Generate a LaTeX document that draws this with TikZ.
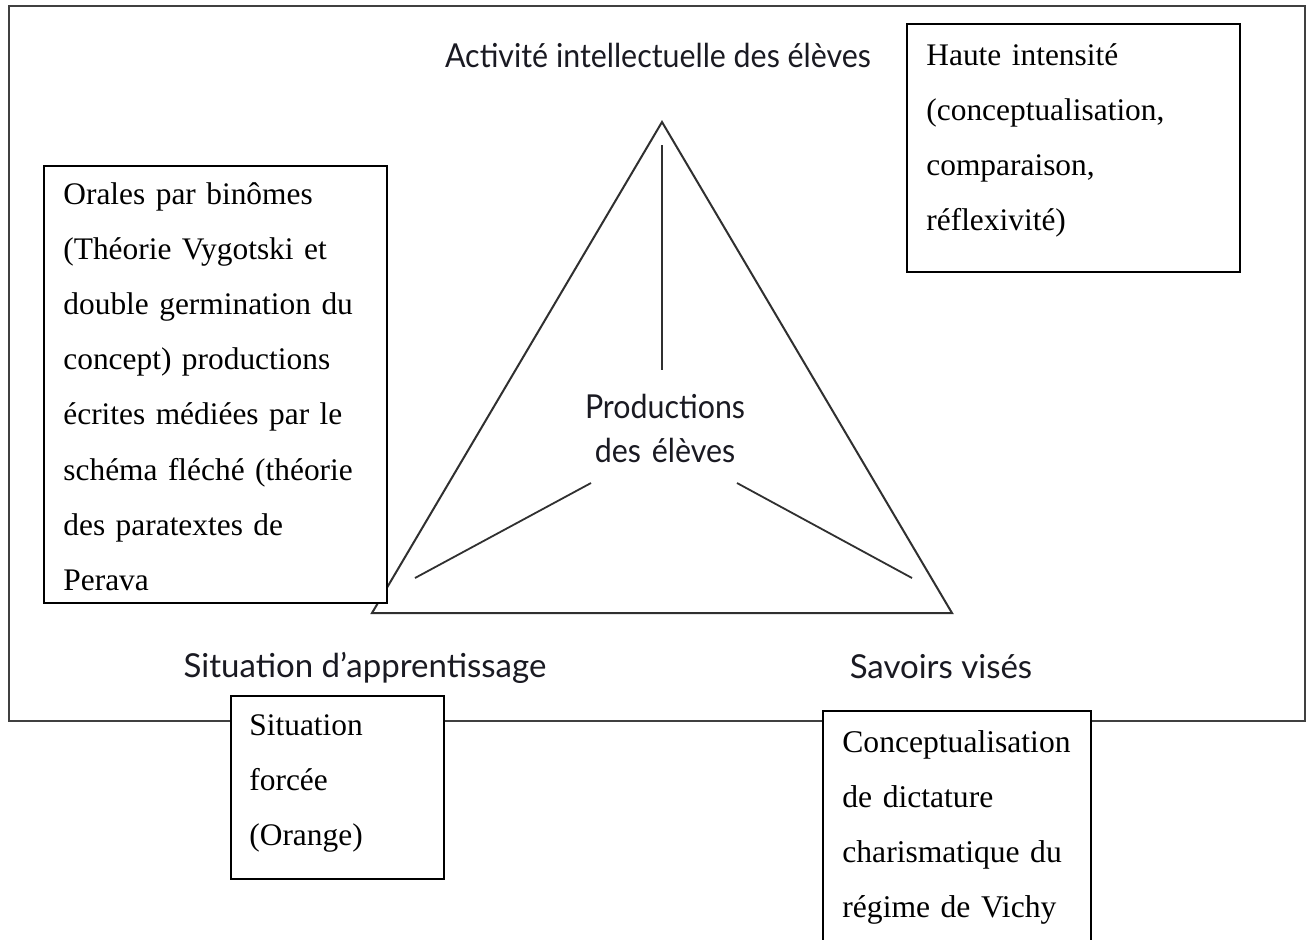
\documentclass[tikz,border=0pt]{standalone}
\usepackage{fontspec}
\setmainfont{Liberation Serif}
\newfontfamily\futfont{Lato}
\newfontfamily\futnarrow[FakeStretch=0.92]{Lato}
\definecolor{framegray}{HTML}{404040}
\definecolor{trigray}{HTML}{303030}
\definecolor{labelink}{HTML}{1A1A22}
\begin{document}
\begin{tikzpicture}[x=0.5pt,y=-0.5pt,
  frame/.style={draw=framegray,line width=0.75pt},
  tri/.style={draw=trigray,line width=1pt},
  spoke/.style={draw=trigray,line width=0.9pt},
  box/.style={draw=black,line width=0.75pt,fill=white,inner sep=0pt,anchor=north west},
  boxtext/.style={anchor=base west,inner sep=0pt,align=left,font=\fontsize{15.7}{27.6}\selectfont},
  lbl/.style={inner sep=0pt,text=labelink,font=\futfont\fontsize{16.5}{22}\selectfont}]
\clip (0,0) rectangle (1311,939);
\fill[white] (0,0) rectangle (1311,939);
% outer frame
\draw[frame] (9,6) rectangle (1305,721);
% triangle
\coordinate (apex) at (662,122);
\coordinate (bl) at (372,613);
\coordinate (br) at (952,613);
\draw[tri,line join=miter] (apex) -- (bl) -- (br) -- cycle;
% spokes
\coordinate (v1) at (662,145);
\coordinate (v2) at (662,370);
\coordinate (l1) at (591,483);
\coordinate (l2) at (415,578);
\coordinate (r1) at (737,483);
\coordinate (r2) at (912,578);
\draw[spoke] (v1) -- (v2);
\draw[spoke] (l1) -- (l2);
\draw[spoke] (r1) -- (r2);
% labels
\node[lbl,anchor=base,font=\futnarrow\fontsize{16.5}{22}\selectfont] (act) at (658,67) {Activité intellectuelle des élèves};
\node[lbl,anchor=base,text width=110pt,align=center,font=\futnarrow\fontsize{16.5}{22}\selectfont] (prod) at (665,418) {Productions\\des élèves};
\node[lbl,anchor=base] (sit) at (365,677) {Situation d’apprentissage};
\node[lbl,anchor=base] (sav) at (941,678) {Savoirs visés};
% boxes
\node[box,minimum width=171.5pt,minimum height=218.5pt] (bleft) at (43,165) {};
\node[boxtext,text width=160pt] (tleft) at (63,204) {Orales par binômes\\(Théorie Vygotski et\\double germination du\\concept) productions\\écrites médiées par le\\schéma fléché (théorie\\des paratextes de\\Perava};
\node[box,minimum width=166.5pt,minimum height=124pt] (bhaut) at (906,23) {};
\node[boxtext,text width=150pt] (thaut) at (926,65) {Haute intensité\\(conceptualisation,\\comparaison,\\réflexivité)};
\node[box,minimum width=106.5pt,minimum height=91.5pt] (bsit) at (230,695) {};
\node[boxtext,text width=95pt] (tsit) at (249,735) {Situation\\forcée\\(Orange)};
\node[box,minimum width=134pt,minimum height=125pt] (bsav) at (822,710) {};
\node[boxtext,text width=125pt,font=\fontsize{15.8}{27.6}\selectfont] (tsav) at (842,752) {Conceptualisation\\de dictature\\charismatique du\\régime de Vichy};
\end{tikzpicture}
\end{document}
